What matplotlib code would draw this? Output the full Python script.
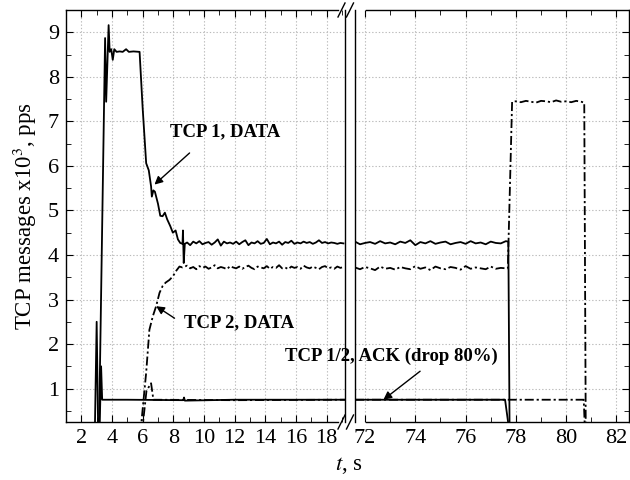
import numpy as np
import matplotlib
matplotlib.use('Agg')
import matplotlib.pyplot as plt
from matplotlib.lines import Line2D

plt.rcParams['font.family'] = ['Liberation Serif', 'DejaVu Serif']
plt.rcParams['mathtext.fontset'] = 'stix'

# ---- data (time in s, rate in x10^3 pps) ----
# TCP 1 DATA, left part (start-up transient)
tcp1_start_t = [3.15, 3.55, 3.62, 3.78, 3.85, 3.95, 4.05, 4.15, 4.3, 4.5, 4.7, 4.92, 5.1,
                5.4, 5.8, 6.0, 6.23, 6.4, 6.55, 6.6, 6.7, 6.8, 7.0, 7.15, 7.3, 7.45,
                7.6, 7.8, 7.97, 8.15, 8.3, 8.45, 8.6, 8.63, 8.68, 8.75]
tcp1_start_v = [0.0, 8.87, 7.44, 9.16, 8.56, 8.62, 8.38, 8.62, 8.56, 8.57, 8.56, 8.62, 8.56,
                8.57, 8.56, 7.3, 6.06, 5.9, 5.54, 5.31, 5.45, 5.42, 5.15, 4.88, 4.87, 4.95,
                4.8, 4.65, 4.5, 4.55, 4.35, 4.27, 4.25, 4.55, 3.82, 4.25]
# steady state samples, left part (8.9 .. 19.1 s, every 0.2 s)
left_t = np.round(np.arange(8.9, 19.15, 0.2), 2)
tcp1_left_v = [4.28, 4.22, 4.30, 4.26, 4.31, 4.24, 4.27, 4.29, 4.23, 4.28, 4.35, 4.21, 4.30,
               4.26, 4.28, 4.25, 4.30, 4.24, 4.29, 4.33, 4.22, 4.28, 4.26, 4.31, 4.25, 4.27,
               4.36, 4.24, 4.28, 4.26, 4.30, 4.23, 4.29, 4.27, 4.32, 4.25, 4.28, 4.26, 4.30,
               4.27, 4.29, 4.25, 4.28, 4.33, 4.27, 4.29, 4.26, 4.28, 4.27, 4.25, 4.27, 4.26]

# TCP 2 DATA, left part
tcp2_start_t = [5.85, 6.23, 6.44, 6.66, 6.88, 7.1, 7.3, 7.5, 7.75, 7.97, 8.2, 8.4, 8.6]
tcp2_start_v = [0.0, 1.36, 2.32, 2.62, 2.85, 3.15, 3.3, 3.38, 3.44, 3.52, 3.65, 3.74, 3.72]
tcp2_left_v = [3.76, 3.70, 3.73, 3.68, 3.75, 3.71, 3.74, 3.69, 3.72, 3.77, 3.70, 3.73, 3.71,
               3.68, 3.75, 3.72, 3.70, 3.74, 3.69, 3.73, 3.76, 3.71, 3.68, 3.74, 3.72, 3.70,
               3.75, 3.69, 3.73, 3.71, 3.77, 3.70, 3.72, 3.68, 3.74, 3.71, 3.73, 3.69, 3.76,
               3.72, 3.70, 3.74, 3.71, 3.68, 3.73, 3.75, 3.70, 3.72, 3.69, 3.74, 3.71, 3.73]

# steady state samples, right part (71.6 .. 77.6 s, every 0.2 s)
right_t = np.round(np.arange(71.6, 77.65, 0.2), 2)
tcp1_right_v = [4.30, 4.24, 4.27, 4.29, 4.25, 4.31, 4.26, 4.28, 4.24, 4.30, 4.27, 4.33, 4.22,
                4.29, 4.26, 4.31, 4.25, 4.28, 4.30, 4.24, 4.27, 4.29, 4.25, 4.31, 4.26, 4.28,
                4.24, 4.30, 4.27, 4.26, 4.31]
tcp1_end_t = [77.7, 77.75]
tcp1_end_v = [4.30, 0.0]
tcp2_right_v = [3.72, 3.68, 3.73, 3.70, 3.66, 3.74, 3.69, 3.71, 3.67, 3.73, 3.70, 3.68, 3.75,
                3.69, 3.72, 3.66, 3.74, 3.70, 3.68, 3.73, 3.71, 3.67, 3.75, 3.69, 3.72, 3.70,
                3.68, 3.74, 3.69, 3.71, 3.70]
# TCP 2 alone after TCP 1 stops
tcp2_end_t = [77.68, 77.85, 78.0, 78.2, 78.4, 78.6, 78.8, 79.0, 79.2, 79.4, 79.6, 79.8,
              80.0, 80.2, 80.4, 80.6, 80.72, 80.78]
tcp2_end_v = [3.70, 7.44, 7.45, 7.43, 7.46, 7.44, 7.42, 7.46, 7.45, 7.43, 7.47, 7.44,
              7.45, 7.43, 7.46, 7.44, 7.42, 0.0]

# ACK streams
ack1_left_t = [2.88, 3.0, 3.1, 3.2, 3.29, 3.36, 5.0, 8.65, 8.7, 8.75, 12.0, 19.2]
ack1_left_v = [0.0, 2.5, 0.0, 0.2, 1.5, 0.75, 0.75, 0.74, 0.8, 0.73, 0.75, 0.75]
ack1_right_t = [71.6, 74.0, 77.57, 77.75]
ack1_right_v = [0.75, 0.75, 0.75, 0.0]
ack2_left_t = [5.95, 6.25, 6.55, 6.7, 12.0, 19.2]
ack2_left_v = [0.0, 0.95, 1.12, 0.75, 0.74, 0.75]
ack2_right_t = [71.6, 76.0, 80.7, 80.75]
ack2_right_v = [0.75, 0.75, 0.75, 0.0]

# ---- figure ----
fig = plt.figure(figsize=(6.3, 4.8), dpi=100)
axL = fig.add_axes([66 / 630, 58 / 480, 279 / 630, 412 / 480])
axR = fig.add_axes([355 / 630, 58 / 480, 274 / 630, 412 / 480])

dashdot = (0, (5, 1.6, 1.2, 1.6))
lw = 1.3

axL.plot(tcp1_start_t + list(left_t), tcp1_start_v + tcp1_left_v, color='black', lw=lw)
axL.plot(tcp2_start_t + list(left_t), tcp2_start_v + tcp2_left_v, color='black', lw=lw, ls=dashdot)
axL.plot(ack1_left_t, ack1_left_v, color='black', lw=lw)
axL.plot(ack2_left_t, ack2_left_v, color='black', lw=lw, ls=dashdot)

axR.plot(list(right_t) + tcp1_end_t, tcp1_right_v + tcp1_end_v, color='black', lw=lw)
axR.plot(list(right_t) + tcp2_end_t, tcp2_right_v + tcp2_end_v, color='black', lw=lw, ls=dashdot)
axR.plot(ack1_right_t, ack1_right_v, color='black', lw=lw)
axR.plot(ack2_right_t, ack2_right_v, color='black', lw=lw, ls=dashdot)

axL.set_xlim(1.0, 19.2)
axR.set_xlim(71.6, 82.5)
for ax in (axL, axR):
    ax.set_ylim(0.25, 9.5)
    ax.set_yticks(range(1, 10))
    ax.set_yticks(np.arange(0.5, 9.5, 0.5), minor=True)
    ax.grid(True, which='major', color='#bbbbbb', ls=(0, (1.2, 1.8)), lw=0.8)
    ax.tick_params(which='both', direction='in', top=True, labelsize=16, pad=5)
    ax.tick_params(which='major', length=5)
    ax.tick_params(which='minor', length=3.5)
    for s in ax.spines.values():
        s.set_linewidth(1.0)

axL.set_xticks(range(2, 19, 2))
axL.set_xticks(range(1, 20, 1), minor=True)
axL.tick_params(which='both', right=False)

axR.set_xticks(range(72, 83, 2))
axR.set_xticks(range(73, 83, 2), minor=True)
axR.tick_params(which='both', left=False, right=True, labelleft=False)

# hide spine portions next to break marks
axL.spines['top'].set_bounds(1.0, 18.75)
axL.spines['bottom'].set_bounds(1.0, 18.75)
axR.spines['top'].set_bounds(72.05, 82.5)
axR.spines['bottom'].set_bounds(72.05, 82.5)

# break marks
for xc in (341.5, 350.0):
    for yc in (10, 422):
        fig.add_artist(Line2D([(xc - 3.5) / 630, (xc + 3.5) / 630],
                              [1 - (yc + 7) / 480, 1 - (yc - 7) / 480],
                              color='black', lw=1.0))

# annotations
bold = dict(fontsize=13.5, fontweight='bold', color='black')
axL.text(11.35, 6.76, 'TCP 1, DATA', ha='center', va='center', **bold)
axL.annotate('', xy=(6.77, 5.58), xytext=(9.06, 6.29),
             arrowprops=dict(arrowstyle='-|>', color='black', lw=1.0, mutation_scale=12,
                             shrinkA=0, shrinkB=0))
axL.text(12.3, 2.48, 'TCP 2, DATA', ha='center', va='center', **bold)
axL.annotate('', xy=(6.88, 2.85), xytext=(8.08, 2.58),
             arrowprops=dict(arrowstyle='-|>', color='black', lw=1.0, mutation_scale=12,
                             shrinkA=0, shrinkB=0))
fig.text(391.7 / 630, 1 - 356.5 / 480, 'TCP 1/2, ACK (drop 80%)', ha='center', va='center', **bold)
axR.annotate('', xy=(72.73, 0.75), xytext=(74.19, 1.39),
             arrowprops=dict(arrowstyle='-|>', color='black', lw=1.0, mutation_scale=12,
                             shrinkA=0, shrinkB=0))

fig.text(25 / 630, 1 - 216 / 480, r'TCP messages x10$^3$, pps', rotation=90,
         ha='center', va='center', fontsize=16.5)
fig.text(349 / 630, 1 - 466 / 480, r'$t$, s', ha='center', va='center', fontsize=16.5)

fig.savefig('out.png', dpi=100)
